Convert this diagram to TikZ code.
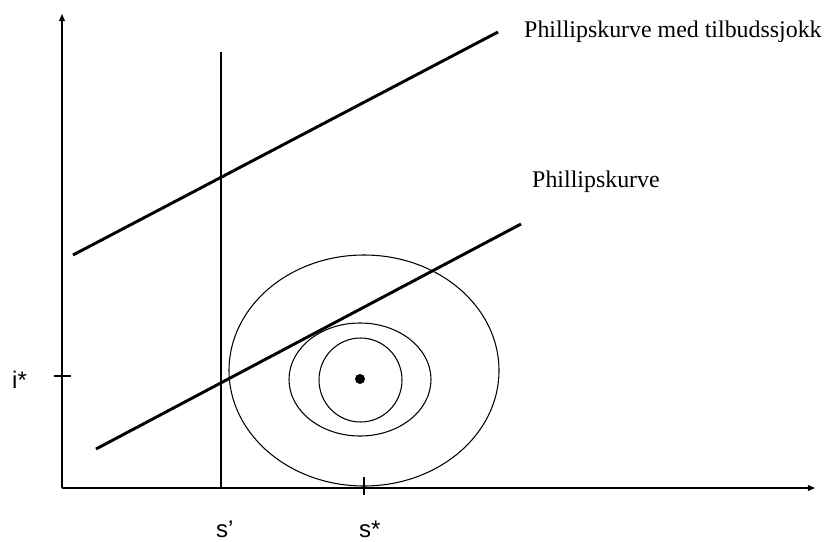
\documentclass[tikz,border=0pt]{standalone}
\usepackage{fontspec}
\setmainfont{Liberation Serif}
\newfontfamily\axisfont{Liberation Sans}
\usepackage{tikz}
\usetikzlibrary{arrows.meta, positioning}

\begin{document}
\begin{tikzpicture}[
    x=0.3mm, y=-0.3mm,
    axis/.style={line width=0.9pt, -{Triangle[length=6pt, width=5pt]}},
    curve/.style={line width=2.5pt},
    indiff/.style={line width=0.9pt},
    tick/.style={line width=0.9pt},
    curvelabel/.style={font=\fontsize{20.4}{24}\selectfont, anchor=base west, inner sep=0pt},
    axislabel/.style={font=\axisfont\fontsize{20.5}{24}\selectfont, anchor=base west, inner sep=0pt}
]
\useasboundingbox (0,0) rectangle (824,542);

% Axes
\coordinate (origin) at (62,488);
\coordinate (xend) at (815,488);
\coordinate (yend) at (62,14);
\draw[axis] (origin) -- (xend);
\draw[axis] (origin) -- (yend);

% Ticks
\coordinate (istar) at (62,376);
\coordinate (sstar) at (364,488);
\draw[tick] ([xshift=-7]istar) -- ([xshift=8]istar);
\draw[tick] ([yshift=-6]sstar) -- ([yshift=9]sstar);

% Vertical line at s'
\coordinate (sprime) at (221,488);
\coordinate (sprimetop) at (221,52);
\draw[curve] (sprime) -- (sprimetop);

% Phillips curves
\coordinate (shockleft) at (73,255);
\coordinate (shockright) at (498,32);
\coordinate (pcleft) at (96,449);
\coordinate (pcright) at (521,224);
\draw[curve] (shockleft) -- (shockright);
\draw[curve] (pcleft) -- (pcright);

% Indifference curves around the bliss point
\coordinate (bliss) at (360,379);
\draw[indiff] (364,370.5) ellipse [x radius=135, y radius=115.5];
\draw[indiff] (360,379.5) ellipse [x radius=71, y radius=56.5];
\draw[indiff] (360.5,380) ellipse [x radius=41.5, y radius=42];
\fill (bliss) circle [radius=5];

% Labels
\node[curvelabel] (shocklabel) at (524,37) {Phillipskurve med tilbudssjokk};
\node[curvelabel] (pclabel) at (532,187) {Phillipskurve};
\node[axislabel] (ilabel) at (12,388) {i*};
\node[axislabel] (splabel) at (216,537) {s’};
\node[axislabel] (sslabel) at (359,537) {s*};
\end{tikzpicture}
\end{document}
